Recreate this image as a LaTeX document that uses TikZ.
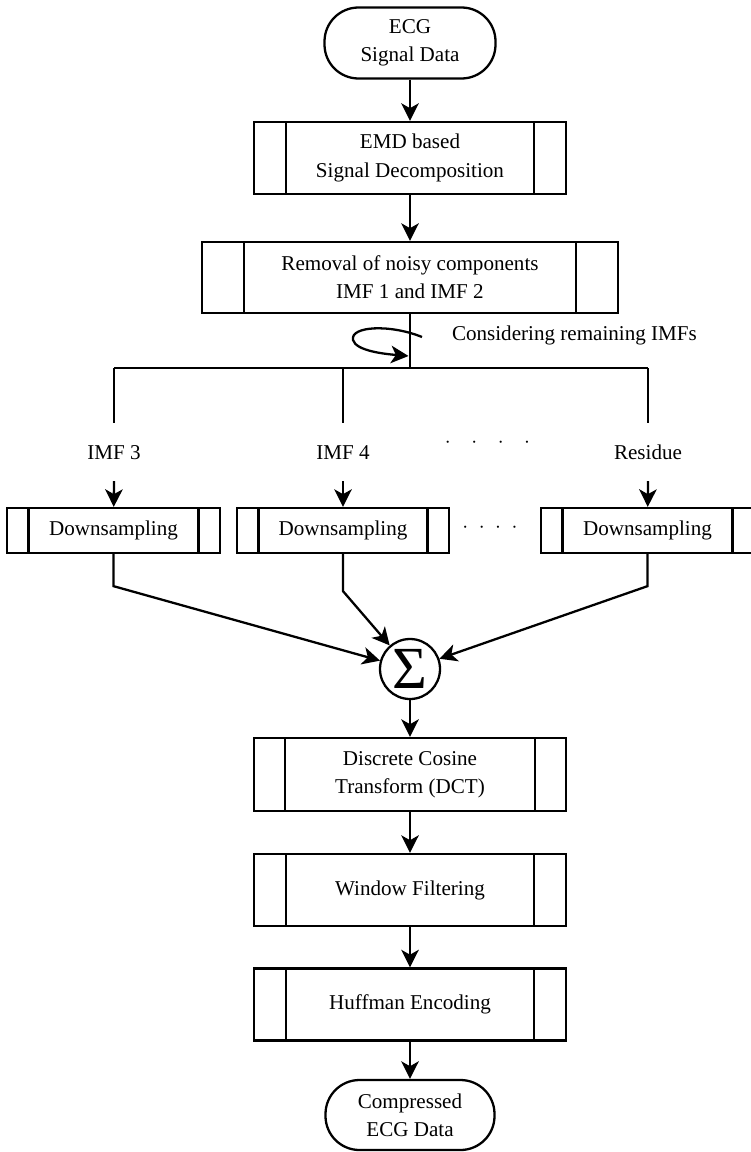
\documentclass[tikz,border=0pt]{standalone}
\usepackage{fontspec}
\setmainfont{Liberation Serif}
\usetikzlibrary{arrows.meta}

\tikzset{
  proc/.style 2 args={draw, line width=1.3pt, minimum width=#1, minimum height=1.44cm,
    align=center, inner sep=0pt,
    path picture={
      \draw[line width=1.3pt] ([xshift=#2]path picture bounding box.north west) -- ([xshift=#2]path picture bounding box.south west);
      \draw[line width=1.3pt] ([xshift=-#2]path picture bounding box.north east) -- ([xshift=-#2]path picture bounding box.south east);
    }},
  term/.style={draw, line width=1.3pt, rounded corners=0.68cm, minimum width=3.42cm,
    minimum height=1.42cm, align=center, inner sep=0pt},
  branch/.style={inner xsep=0pt, inner ysep=0.42cm, text height=8pt, text depth=0pt}
}

\begin{document}
\begin{tikzpicture}[font=\fontsize{12}{16}\selectfont, line width=1.3pt,
    >={Stealth[length=10pt,width=10pt,inset=2.8pt]}]
    \useasboundingbox (0,0) rectangle (15.02,-23.04);

    % main column
    \node[term] (ecg) at (8.2,-0.86) {ECG\\Signal Data};
    \node[proc={6.24cm}{0.64cm}] (emd) at (8.2,-3.16) {EMD based\\Signal Decomposition};
    \node[proc={8.32cm}{0.84cm}, minimum height=1.42cm] (rem) at (8.2,-5.55) {Removal of noisy components\\IMF 1 and IMF 2};

    \draw[->] (ecg) -- (emd);
    \draw[->] (emd) -- (rem);

    % split into the remaining IMFs
    \coordinate (j0) at (8.2,-7.36);
    \coordinate (b3) at (2.28,-7.36);
    \coordinate (b4) at (6.86,-7.36);
    \coordinate (bR) at (12.96,-7.36);
    \draw (rem) -- (j0);
    \draw (b3) -- (bR);

    \coordinate (lpA) at (8.44,-6.74);
    \coordinate (lpB) at (8.17,-7.12);
    \draw[->] (lpA) .. controls (7.8,-6.48) and (7.0,-6.52) .. (7.06,-6.8)
        .. controls (7.12,-7.02) and (7.7,-7.08) .. (lpB);
    \node[anchor=west] (cons) at (8.9,-6.7) {Considering remaining IMFs};

    \node[branch] (imf3) at (2.28,-9.04) {IMF 3};
    \node[branch] (imf4) at (6.86,-9.04) {IMF 4};
    \node[branch] (res) at (12.96,-9.04) {Residue};
    \node (dotsA) at (9.75,-8.86) {$\cdot$\hspace{11.7pt}$\cdot$\hspace{11.7pt}$\cdot$\hspace{11.7pt}$\cdot$};

    \draw (b3) -- (imf3.north);
    \draw (b4) -- (imf4.north);
    \draw (bR) -- (res.north);

    % downsampling
    \node[proc={4.26cm}{0.43cm}, minimum height=0.9cm] (ds1) at (2.27,-10.61) {Downsampling};
    \node[proc={4.24cm}{0.43cm}, minimum height=0.9cm] (ds2) at (6.86,-10.61) {Downsampling};
    \node[proc={4.26cm}{0.43cm}, minimum height=0.9cm] (ds3) at (12.95,-10.61) {Downsampling};
    \node (dotsB) at (9.8,-10.55) {$\cdot$\hspace{6pt}$\cdot$\hspace{6pt}$\cdot$\hspace{6pt}$\cdot$};

    \draw[->] (imf3.south) -- (ds1);
    \draw[->] (imf4.south) -- (ds2);
    \draw[->] (res.south) -- (ds3);

    % sum of the components
    \node[draw, circle, minimum size=1.2cm, inner sep=0pt] (sum) at (8.2,-13.38) {\fontsize{34}{36}\selectfont Σ};

    \draw[->] (ds1.south) -- ++(0,-0.64) -- (sum);
    \draw[->] (ds2.south) -- ++(0,-0.74) -- (sum);
    \draw[->] (ds3.south) -- ++(0,-0.64) -- (sum);

    \node[proc={6.24cm}{0.62cm}, minimum height=1.46cm] (dct) at (8.2,-15.49) {Discrete Cosine\\Transform (DCT)};
    \node[proc={6.24cm}{0.64cm}] (win) at (8.2,-17.8) {Window Filtering};
    \node[proc={6.24cm}{0.64cm}] (huff) at (8.2,-20.09) {Huffman Encoding};
    \node[term, minimum width=3.38cm, minimum height=1.4cm] (out) at (8.2,-22.3) {Compressed\\ECG Data};

    \draw[->] (sum) -- (dct);
    \draw[->] (dct) -- (win);
    \draw[->] (win) -- (huff);
    \draw[->] (huff) -- (out);
\end{tikzpicture}
\end{document}
